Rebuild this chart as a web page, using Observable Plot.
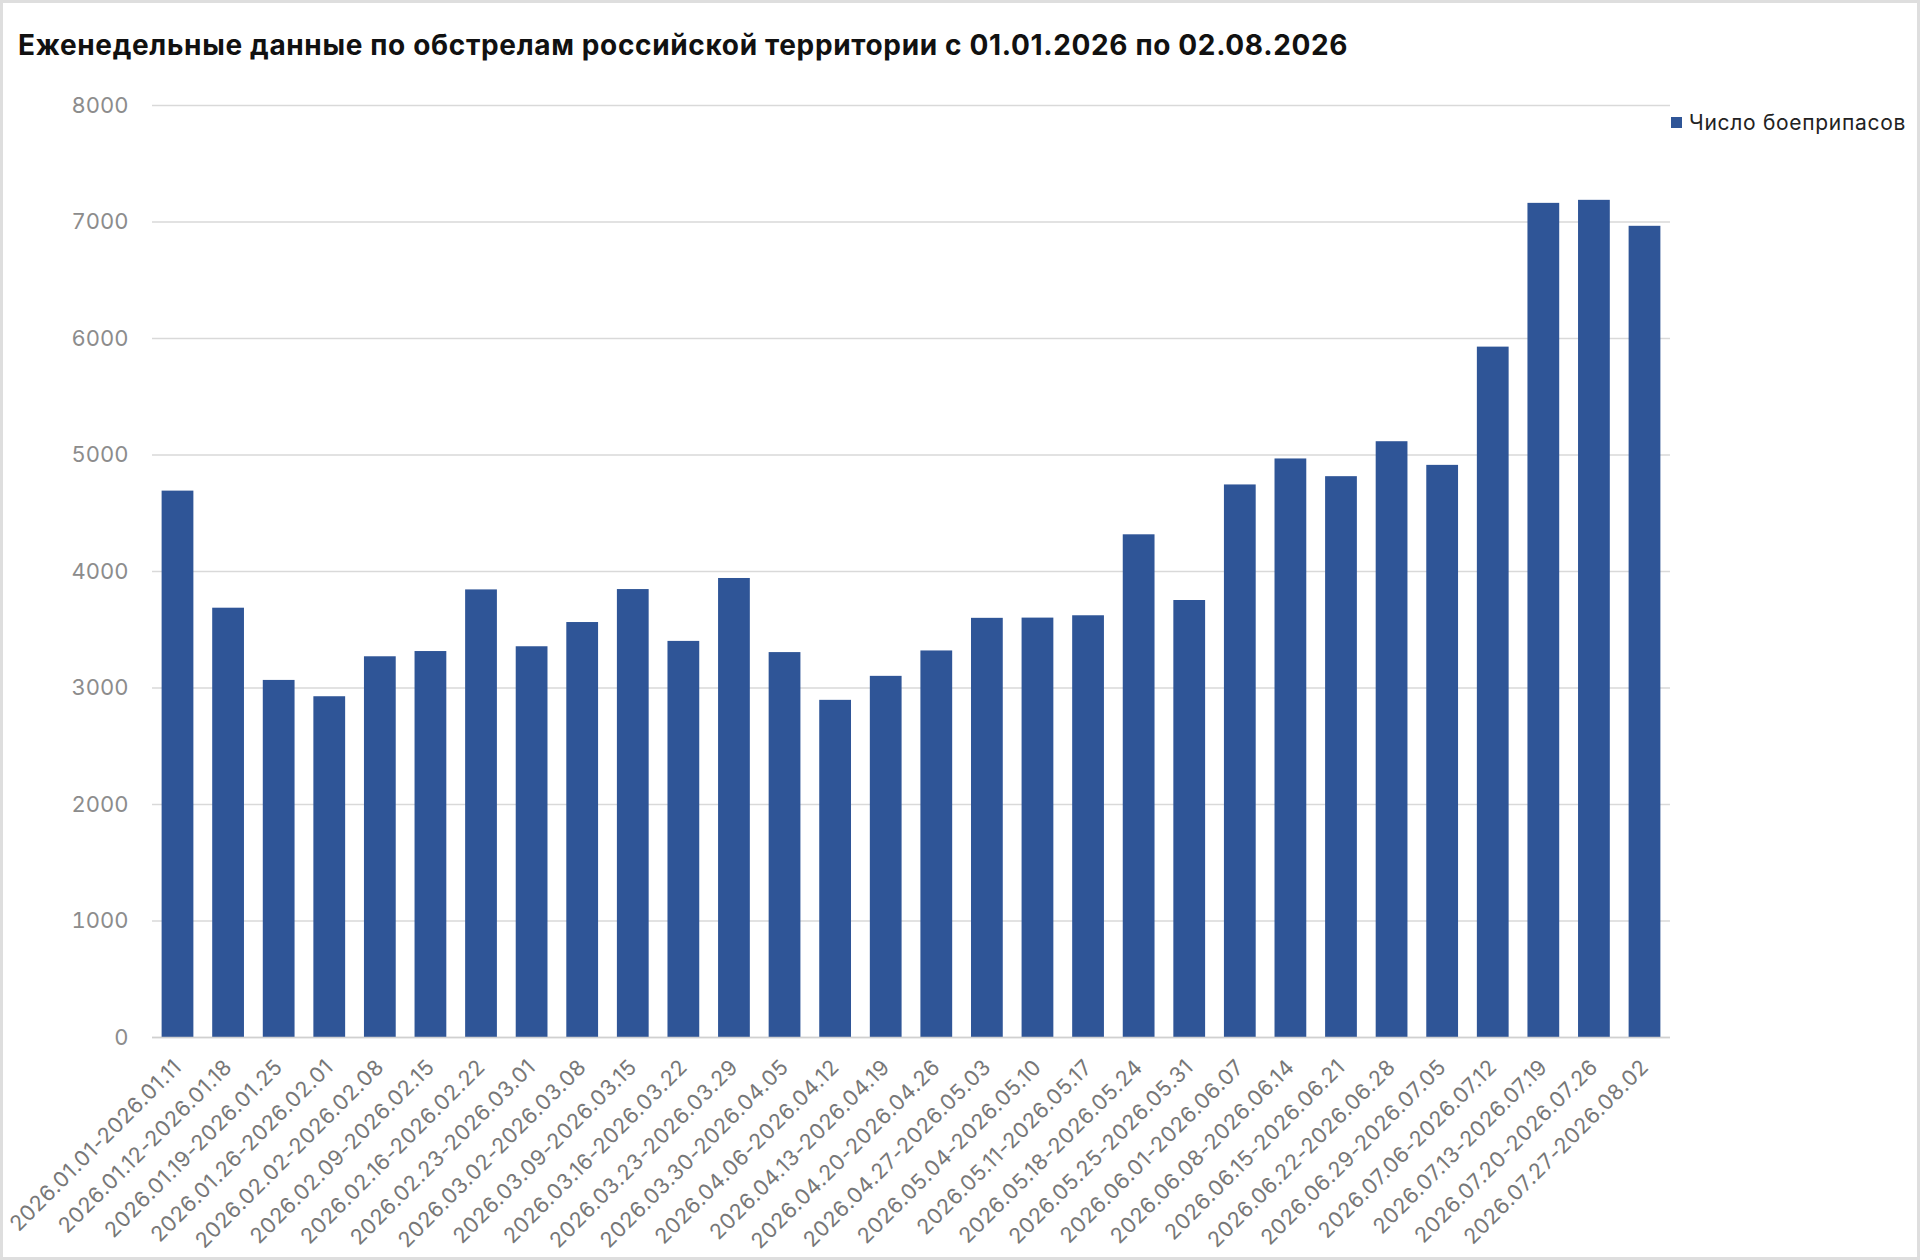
<!DOCTYPE html>
<html>
<head>
<meta charset="utf-8">
<script src="https://cdn.jsdelivr.net/npm/d3@7"></script>
<script src="https://cdn.jsdelivr.net/npm/@observablehq/plot@0.6"></script>
<style>
  html, body { margin: 0; padding: 0; background: #fff; }
  #frame {
    position: relative; width: 1920px; height: 1260px; overflow: hidden;
    background: #fff; box-shadow: inset 0 0 0 3px #dedede;
    font-family: Inter, "Noto Sans", sans-serif;
  }
  #title {
    position: absolute; left: 18px; top: 28px; margin: 0;
    font: 700 28px Inter, "Noto Sans", sans-serif; color: #111; white-space: nowrap;
    line-height: normal; letter-spacing: 0.65px;
  }
  #chart { position: absolute; left: 0; top: 80px; }
  #legend {
    position: absolute; left: 1671px; top: 110px; display: flex; align-items: center;
    font: 400 21px Inter, "Noto Sans", sans-serif; color: #222; line-height: normal; white-space: nowrap;
    letter-spacing: 0.7px;
  }
  #legend .sw { width: 11px; height: 11px; margin-right: 7px; }
  #chart svg [aria-label="x-axis tick label"] text { letter-spacing: 0.6px; }
</style>
</head>
<body>
<div id="frame">
  <div id="title"></div>
  <div id="chart"></div>
  <div id="legend"></div>
</div>
<script>
const titleText = "Еженедельные данные по обстрелам российской территории с 01.01.2026 по 02.08.2026";
const seriesName = "Число боеприпасов";
const barColor = "#2F5597";

const weeks = [
  "2026.01.01-2026.01.11", "2026.01.12-2026.01.18", "2026.01.19-2026.01.25", "2026.01.26-2026.02.01",
  "2026.02.02-2026.02.08", "2026.02.09-2026.02.15", "2026.02.16-2026.02.22", "2026.02.23-2026.03.01",
  "2026.03.02-2026.03.08", "2026.03.09-2026.03.15", "2026.03.16-2026.03.22", "2026.03.23-2026.03.29",
  "2026.03.30-2026.04.05", "2026.04.06-2026.04.12", "2026.04.13-2026.04.19", "2026.04.20-2026.04.26",
  "2026.04.27-2026.05.03", "2026.05.04-2026.05.10", "2026.05.11-2026.05.17", "2026.05.18-2026.05.24",
  "2026.05.25-2026.05.31", "2026.06.01-2026.06.07", "2026.06.08-2026.06.14", "2026.06.15-2026.06.21",
  "2026.06.22-2026.06.28", "2026.06.29-2026.07.05", "2026.07.06-2026.07.12", "2026.07.13-2026.07.19",
  "2026.07.20-2026.07.26", "2026.07.27-2026.08.02"
];

const munitions = [
  4690, 3685, 3065, 2925, 3268, 3313, 3842, 3354, 3562, 3845,
  3400, 3940, 3304, 2894, 3100, 3318, 3598, 3600, 3620, 4315,
  3751, 4743, 4966, 4814, 5114, 4911, 5926, 7160, 7186, 6963
];

const yTicks = [0, 1000, 2000, 3000, 4000, 5000, 6000, 7000, 8000];

const data = weeks.map((w, i) => ({week: w, value: munitions[i]}));

document.getElementById("title").textContent = titleText;
const lg = document.getElementById("legend");
const sw = document.createElement("span");
sw.className = "sw"; sw.style.background = barColor;
const lt = document.createElement("span");
lt.textContent = seriesName;
lg.append(sw, lt);

const chart = Plot.plot({
  width: 1920,
  height: 1180,
  marginTop: 25,
  marginBottom: 223,
  marginLeft: 152,
  marginRight: 250,
  style: {fontFamily: "Inter, 'Noto Sans', sans-serif", background: "transparent"},
  x: {domain: weeks, paddingInner: 0.372, paddingOuter: 0.19, round: false, label: null},
  y: {domain: [0, 8000], label: null},
  marks: [
    Plot.gridY(yTicks, {stroke: "#d9d9d9", strokeOpacity: 1, strokeWidth: 1.5}),
    Plot.barY(data, {x: "week", y: "value", fill: barColor}),
    Plot.ruleY([0], {stroke: "#d0d0d0", strokeWidth: 1.5}),
    Plot.axisY(yTicks, {tickSize: 0, tickPadding: 24, fontSize: 22, fill: "#8c8c8c", label: null, tickFormat: d3.format("d")}),
    Plot.axisX({tickSize: 0, tickPadding: 26, dx: 0, tickRotate: -45, fontSize: 21.5, fill: "#777", label: null})
  ]
});
document.getElementById("chart").append(chart);
</script>
</body>
</html>
